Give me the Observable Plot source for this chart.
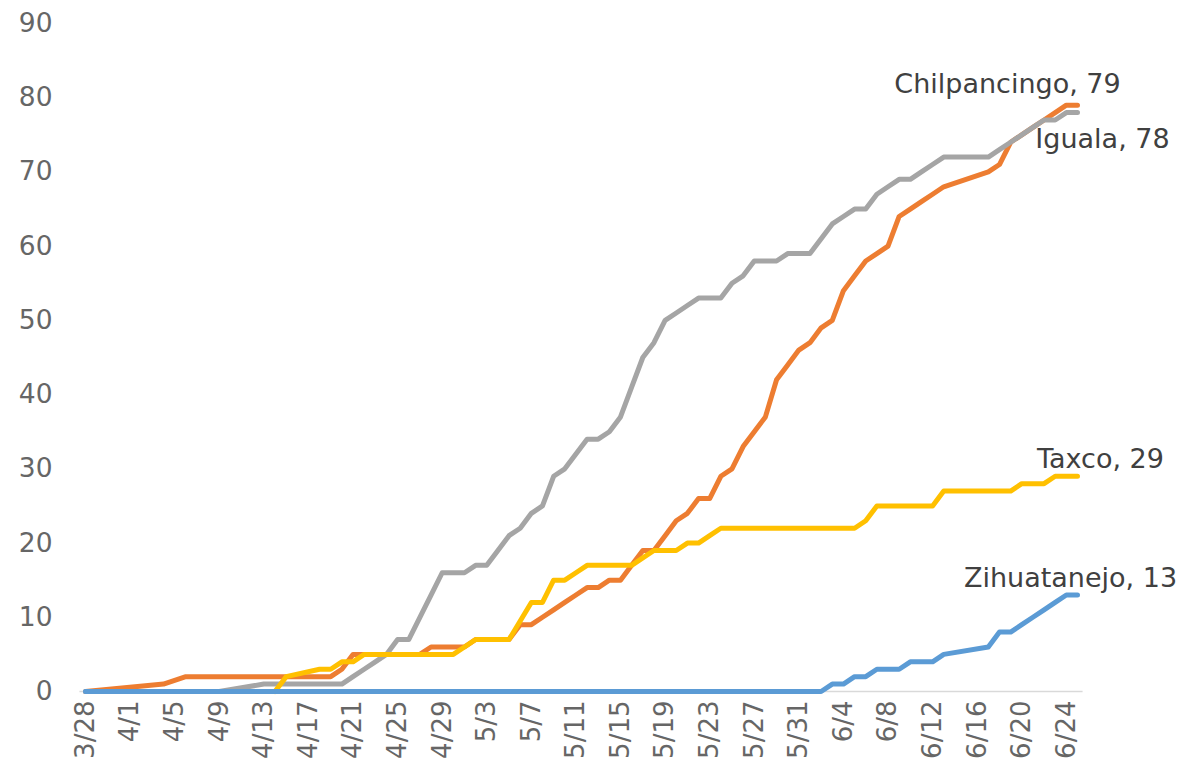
<!DOCTYPE html>
<html>
<head>
<meta charset="utf-8">
<script src="https://cdn.jsdelivr.net/npm/d3@7"></script>
<script src="https://cdn.jsdelivr.net/npm/@observablehq/plot@0.6"></script>
<style>
  html, body { margin: 0; padding: 0; background: #ffffff; }
  #chart svg { display: block; }
</style>
</head>
<body>
<div id="chart"></div>
<script>
// ---- Data (daily cumulative values, 3/28 to 6/25; null = no point that day) ----
const startDay = "2020-03-28";
const dayCount = 90;

const seriesNames = ["Chilpancingo", "Iguala", "Taxco", "Zihuatanejo"];

const chilpancingo = [
  0, null, null, null, null, null, null, 1, null, 2,            // 3/28-4/6
  2, 2, 2, 2, 2, 2, 2, 2, 2, 2,                                 // 4/7-4/16
  2, 2, 2, 3, 5, 5, 5, 5, 5, 5,                                 // 4/17-4/26
  5, 6, 6, 6, 6, 7, 7, 7, 7, 9,                                 // 4/27-5/6
  9, 10, 11, 12, 13, 14, 14, 15, 15, 17,                        // 5/7-5/16
  19, 19, 21, 23, 24, 26, 26, 29, 30, 33,                       // 5/17-5/26
  35, 37, 42, 44, 46, 47, 49, 50, 54, 56,                       // 5/27-6/5
  58, 59, 60, 64, 65, 66, 67, 68, null, null,                   // 6/6-6/15
  null, 70, 71, 74, 75, 76, 77, 78, 79, 79                      // 6/16-6/25
];

const iguala = [
  0, 0, 0, 0, 0, 0, 0, 0, 0, 0,                                 // 3/28-4/6
  0, 0, 0, null, null, null, 1, 1, 1, 1,                        // 4/7-4/16
  1, 1, 1, 1, 2, 3, 4, 5, 7, 7,                                 // 4/17-4/26
  10, 13, 16, 16, 16, 17, 17, 19, 21, 22,                       // 4/27-5/6
  24, 25, 29, 30, 32, 34, 34, 35, 37, 41,                       // 5/7-5/16
  45, 47, 50, 51, 52, 53, 53, 53, 55, 56,                       // 5/17-5/26
  58, 58, 58, 59, 59, 59, 61, 63, 64, 65,                       // 5/27-6/5
  65, 67, 68, 69, 69, 70, 71, 72, 72, 72,                       // 6/6-6/15
  72, 72, 73, 74, 75, 76, 77, 77, 78, 78                        // 6/16-6/25
];

const taxco = [
  null, null, null, null, null, null, null, null, null, null,   // 3/28-4/6
  null, null, null, null, null, null, null, 0, 2, null,         // 4/7-4/16
  null, 3, 3, 4, 4, 5, 5, 5, 5, 5,                              // 4/17-4/26
  5, 5, 5, 5, 6, 7, 7, 7, 7, null,                              // 4/27-5/6
  12, 12, 15, 15, 16, 17, 17, 17, 17, 17,                       // 5/7-5/16
  18, 19, 19, 19, 20, 20, 21, 22, 22, 22,                       // 5/17-5/26
  22, 22, 22, 22, 22, 22, 22, 22, 22, 22,                       // 5/27-6/5
  23, 25, 25, 25, 25, 25, 25, 27, 27, 27,                       // 6/6-6/15
  27, 27, 27, 27, 28, 28, 28, 29, 29, 29                        // 6/16-6/25
];

const zihuatanejo = [
  0, 0, 0, 0, 0, 0, 0, 0, 0, 0,                                 // 3/28-4/6
  0, 0, 0, 0, 0, 0, 0, 0, 0, 0,                                 // 4/7-4/16
  0, 0, 0, 0, 0, 0, 0, 0, 0, 0,                                 // 4/17-4/26
  0, 0, 0, 0, 0, 0, 0, 0, 0, 0,                                 // 4/27-5/6
  0, 0, 0, 0, 0, 0, 0, 0, 0, 0,                                 // 5/7-5/16
  0, 0, 0, 0, 0, 0, 0, 0, 0, 0,                                 // 5/17-5/26
  0, 0, 0, 0, 0, 0, 0, 1, 1, 2,                                 // 5/27-6/5
  2, 3, 3, 3, 4, 4, 4, 5, null, null,                           // 6/6-6/15
  null, 6, 8, 8, 9, 10, 11, 12, 13, 13                          // 6/16-6/25
];

const seriesColors = ["#ED7D31", "#A5A5A5", "#FFC000", "#5B9BD5"];
const yTickValues = [0, 10, 20, 30, 40, 50, 60, 70, 80, 90];
const xTickEvery = 4;

// ---- Build table ----
const DAY = 864e5;
const t0 = d3.utcParse("%Y-%m-%d")(startDay);
const dates = d3.range(dayCount).map(i => new Date(+t0 + i * DAY));
const seriesValues = [chilpancingo, iguala, taxco, zihuatanejo];

const rows = seriesNames.flatMap((name, s) =>
  seriesValues[s]
    .map((v, i) => ({name, date: dates[i], value: v}))
    .filter(r => r.value != null)
);

const lastRows = seriesNames.map((name, s) => {
  const vals = seriesValues[s];
  const i = vals.length - 1;
  return {name, date: dates[i], value: vals[i], label: `${name}, ${vals[i]}`};
});

// label offsets (styling)
const labelOffsets = {
  Chilpancingo: {dx: -70, dy: -21},
  Iguala: {dx: 25, dy: 27},
  Taxco: {dx: 23, dy: -17},
  Zihuatanejo: {dx: -7, dy: -17}
};

const tickDates = dates.filter((d, i) => i % xTickEvery === 0);
const fmt = d3.utcFormat("%-m/%-d");
const FONT = "'DejaVu Sans', sans-serif";

const chart = Plot.plot({
  width: 1178,
  height: 771,
  marginLeft: 85,
  marginRight: 101,
  marginTop: 23,
  marginBottom: 80,
  style: {fontFamily: FONT, fontSize: "26px", color: "#595959", background: "#ffffff", overflow: "visible"},
  x: {type: "utc", domain: [dates[0], dates[dates.length - 1]]},
  y: {domain: [0, 90]},
  color: {domain: seriesNames, range: seriesColors},
  marks: [
    Plot.ruleY([0], {
      x1: +dates[0] - DAY / 2,
      x2: +dates[dates.length - 1] + DAY / 2,
      stroke: "#D9D9D9",
      strokeWidth: 1.5
    }),
    Plot.axisY({ticks: yTickValues, tickSize: 0, tickPadding: 33, label: null, fontSize: 26.5, fill: "#666666"}),
    Plot.axisX({
      ticks: tickDates,
      tickFormat: fmt,
      tickRotate: -90,
      tickSize: 0,
      tickPadding: 9,
      label: null,
      fontSize: 26,
      fill: "#666666"
    }),
    Plot.line(rows, {
      x: "date", y: "value", z: "name", stroke: "name",
      strokeWidth: 5, strokeLinejoin: "round", strokeLinecap: "round", curve: "linear"
    }),
    ...lastRows.map(r => Plot.text([r], {
      x: "date", y: "value", text: "label",
      dx: labelOffsets[r.name].dx, dy: labelOffsets[r.name].dy,
      textAnchor: "middle", fill: "#404040", fontSize: 27, fontFamily: FONT
    }))
  ]
});

document.getElementById("chart").appendChild(chart);
</script>
</body>
</html>
